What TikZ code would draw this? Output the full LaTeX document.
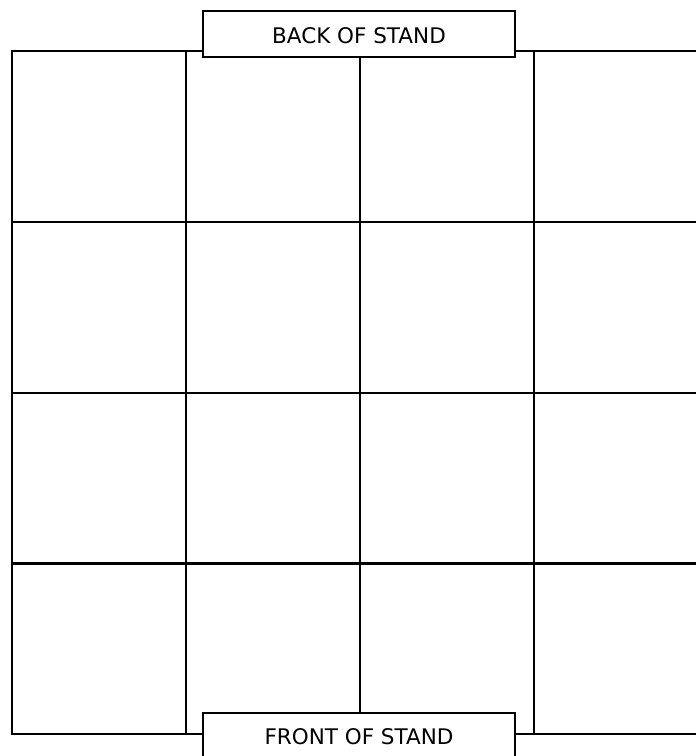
\documentclass[tikz,border=0pt]{standalone}
\usepackage{fontspec}
\setmainfont{DejaVu Sans}
\begin{document}
\begin{tikzpicture}[x=1pt,y=-1pt,
  labelfont/.style={font=\fontsize{21.5}{26}\selectfont},
  label/.style={draw,line width=2pt,fill=white,inner sep=0pt,labelfont}]
\useasboundingbox (0,0) rectangle (696,756);
\clip (0,0) rectangle (696,756);
\fill[white] (0,0) rectangle (696,756);
% grid of cells
\foreach \r in {0,...,3}{
  \foreach \c in {0,...,3}{
    \node[draw,line width=2pt,minimum width=174pt,minimum height=171pt,inner sep=0pt,anchor=north west]
      (cell\r\c) at ({11+174*\c},{50+170.75*\r}) {};
  }
}
% labels
\node[label,minimum width=312pt,minimum height=46pt] (back) at (359,34) {};
\node[labelfont,inner sep=0pt] (backtext) at (359,36) {BACK OF STAND};
\node[label,minimum width=312pt,minimum height=60pt,anchor=north] (front) at (359,712) {};
\node[labelfont,inner sep=0pt] (fronttext) at (359,737) {FRONT OF STAND};
\end{tikzpicture}
\end{document}
